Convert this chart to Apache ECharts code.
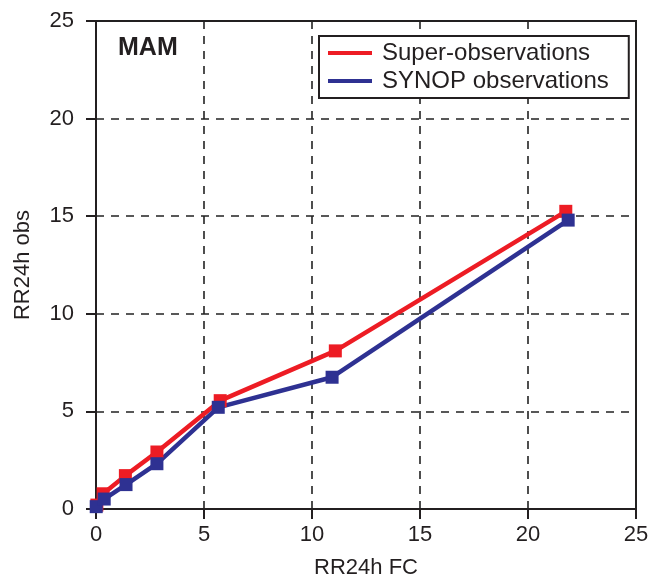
<!DOCTYPE html>
<html>
<head>
<meta charset="utf-8">
<script src="https://cdn.jsdelivr.net/npm/echarts@6/dist/echarts.min.js"></script>
<style>
  html, body { margin: 0; padding: 0; background: #fff; }
  #chart { width: 653px; height: 581px; }
</style>
</head>
<body>
<div id="chart"></div>
<script>
// values
const superFc = [0.04, 0.33, 1.36, 2.82, 5.75, 11.08, 21.75]
const superObs = [0.2, 0.78, 1.71, 2.92, 5.55, 8.1, 15.25]
const synopFc = [0.01, 0.38, 1.39, 2.82, 5.66, 10.93, 21.86]
const synopObs = [0.12, 0.51, 1.25, 2.32, 5.21, 6.75, 14.8]
const seriesNames = ['Super-observations', 'SYNOP observations']
const axisTicks = [0, 5, 10, 15, 20, 25]

const font = 'Liberation Sans, Arial, Helvetica, sans-serif'
const red = '#ED1C24'
const blue = '#2E3192'

function pairs(xs, ys) {
	return xs.map((x, i) => [x, ys[i]])
}

const gridLine = {
	show: true,
	lineStyle: { color: '#222', width: 1.6, type: [8, 7] }
}

const chart = echarts.init(document.getElementById('chart'))
chart.setOption({
	animation: false,
	title: {
		text: 'MAM',
		left: 113,
		top: 31,
		textStyle: { fontFamily: font, fontSize: 25, fontWeight: 'bold', color: '#231f20' }
	},
	legend: {
		data: seriesNames,
		orient: 'vertical',
		left: 319,
		top: 36,
		padding: [5, 20, 5, 9],
		itemGap: 4,
		icon: 'rect',
		itemWidth: 44,
		itemHeight: 4,
		borderColor: '#231f20',
		borderWidth: 2,
		backgroundColor: '#fff',
		textStyle: { fontFamily: font, fontSize: 24, color: '#231f20', padding: [0, 0, 0, 5] }
	},
	grid: {
		left: 96,
		right: 17,
		top: 21,
		bottom: 72,
		containLabel: false,
		outerBoundsMode: 'none',
		show: true,
		borderColor: '#231f20',
		borderWidth: 2
	},
	xAxis: {
		type: 'value',
		min: 0,
		max: 25,
		interval: 5,
		name: 'RR24h FC',
		nameLocation: 'middle',
		nameGap: 48,
		nameTextStyle: { fontFamily: font, fontSize: 22, color: '#231f20' },
		axisLine: { show: true, lineStyle: { color: '#231f20', width: 2 } },
		axisTick: { show: true, length: 10, lineStyle: { color: '#231f20', width: 2 } },
		axisLabel: {
			margin: 15,
			fontFamily: font,
			fontSize: 22,
			color: '#231f20',
			formatter: v => (axisTicks.includes(v) ? String(v) : '')
		},
		splitLine: gridLine
	},
	yAxis: {
		type: 'value',
		min: 0,
		max: 25,
		interval: 5,
		name: 'RR24h obs',
		nameLocation: 'middle',
		nameGap: 62,
		nameTextStyle: { fontFamily: font, fontSize: 22, color: '#231f20' },
		axisLine: { show: true, lineStyle: { color: '#231f20', width: 2 } },
		axisTick: { show: true, length: 10, lineStyle: { color: '#231f20', width: 2 } },
		axisLabel: {
			margin: 22,
			fontFamily: font,
			fontSize: 22,
			color: '#231f20'
		},
		splitLine: gridLine
	},
	series: [
		{
			name: seriesNames[0],
			type: 'line',
			data: pairs(superFc, superObs),
			symbol: 'rect',
			symbolSize: 13,
			clip: false,
			color: red,
			lineStyle: { color: red, width: 4.5 },
			itemStyle: { color: red }
		},
		{
			name: seriesNames[1],
			type: 'line',
			data: pairs(synopFc, synopObs),
			symbol: 'rect',
			symbolSize: 13,
			clip: false,
			color: blue,
			lineStyle: { color: blue, width: 4.5 },
			itemStyle: { color: blue }
		}
	]
})
</script>
</body>
</html>
